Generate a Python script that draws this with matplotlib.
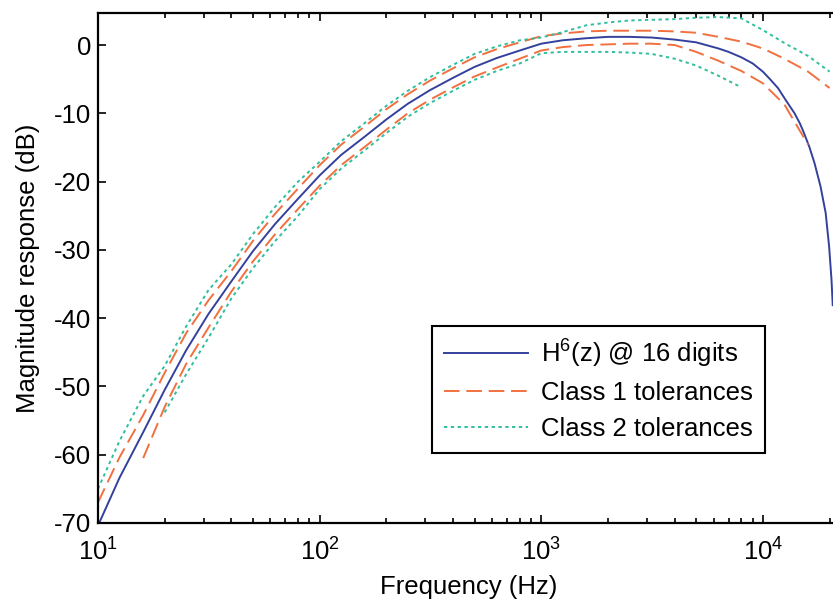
import numpy as np
import matplotlib
matplotlib.use("Agg")
from matplotlib import pyplot as plt

plt.rcParams['font.family'] = ['Liberation Sans', 'DejaVu Sans']
plt.rcParams['mathtext.default'] = 'regular'
plt.rcParams['axes.unicode_minus'] = False

# third-octave band centres used for the tolerance limits
tol_freq = [10, 12.5, 16, 20, 25, 31.5, 40, 50, 63, 80, 100, 125, 160, 200, 250,
            315, 400, 500, 630, 800, 1000, 1250, 1600, 2000, 2500, 3150, 4000,
            5000, 6300, 8000, 10000, 12500, 16000, 20000]

class1_hi = [-67.0, -60.4, -54.2, -48.0, -42.2, -37.4, -33.1, -28.7, -24.7, -21.0,
             -17.6, -14.6, -11.9, -9.4, -7.2, -5.2, -3.4, -1.8, -0.6, 0.4,
             1.3, 1.7, 2.0, 2.1, 2.1, 2.1, 2.0, 1.8, 1.2, 0.5,
             -0.5, -2.0, -3.9, -6.3]
# lower class 1 limit only defined 16 Hz .. 16 kHz
class1_lo = [-60.5, -53.0, -46.7, -41.4, -36.1, -31.7, -27.7, -24.0,
             -20.6, -17.6, -14.9, -12.4, -10.0, -8.0, -6.2, -4.6, -3.3, -2.0,
             -0.8, -0.3, 0.0, 0.1, 0.2, 0.2, 0.0, -1.0, -2.3, -3.8,
             -5.6, -8.7, -14.6]

class2_hi = [-65.0, -58.0, -51.4, -47.0, -41.2, -35.9, -32.1, -27.7, -23.7, -20.0,
             -17.1, -14.1, -11.4, -8.9, -6.7, -4.7, -2.9, -1.3, -0.2, 0.7,
             1.1, 1.9, 2.9, 3.3, 3.6, 3.7, 3.8, 4.0, 4.1, 3.9,
             2.2, 0.3, -1.6, -3.9]
# lower class 2 limit only defined 20 Hz .. 8 kHz
class2_lo = [-53.8, -48.2, -42.9, -37.1, -32.7, -28.7, -25.0,
             -21.1, -18.1, -15.4, -12.9, -10.5, -8.5, -6.7, -5.1, -3.8, -2.7,
             -1.2, -1.0, -1.0, -1.0, -1.1, -1.3, -2.0, -3.0, -4.5, -6.2]

# filter response H^6(z)
h_freq = [10, 12.5, 16, 20, 25, 31.5, 40, 50, 63, 80, 100, 125, 160, 200, 250,
          315, 400, 500, 630, 800, 1000, 1250, 1600, 2000, 2500, 3150, 4000,
          5000, 6300, 7000, 8000, 9000, 10000, 10700, 11700, 12700, 13900,
          14700, 15200, 16200, 17100, 18200, 19200, 19900, 20400, 20660]
h_db = [-70.4, -63.4, -56.7, -50.5, -44.7, -39.4, -34.6, -30.2, -26.2, -22.5,
        -19.1, -16.1, -13.4, -10.9, -8.6, -6.6, -4.8, -3.2, -1.9, -0.8,
        0.2, 0.7, 1.0, 1.2, 1.2, 1.1, 0.8, 0.4, -0.5, -1.0,
        -1.8, -2.7, -3.9, -4.9, -6.3, -8.1, -10.0,
        -11.5, -12.6, -14.9, -17.3, -20.7, -24.6, -29.5, -34.4, -38.1]

c_blue = '#33419c'
c_orange = '#f2703f'
c_teal = '#2fbf9f'
fs = 18.5

fig = plt.figure(figsize=(8.33, 6.03), dpi=100)
ax = fig.add_axes([0.1176, 0.1327, 0.8896, 0.8458])

ax.semilogx(h_freq, h_db, color=c_blue, lw=1.4, label='H$^6$(z) @ 16 digits')
ax.semilogx(tol_freq, class1_hi, color=c_orange, lw=1.4, dashes=(8, 3.5),
            label='Class 1 tolerances')
ax.semilogx(tol_freq[2:-1], class1_lo, color=c_orange, lw=1.4, dashes=(8, 3.5))
ax.semilogx(tol_freq, class2_hi, color=c_teal, lw=1.4, dashes=(1.7, 1.8),
            label='Class 2 tolerances')
ax.semilogx(tol_freq[3:30], class2_lo, color=c_teal, lw=1.4, dashes=(1.7, 1.8))

ax.set_xlim(10, 22050)
ax.set_ylim(-70, 4.7)
ax.set_yticks(np.arange(-70, 1, 10))

for s in ax.spines.values():
    s.set_linewidth(1.6)
ax.spines['right'].set_visible(False)

ax.tick_params(which='both', direction='in', top=True, right=False,
               labelsize=fs, width=1.2)
ax.tick_params(which='major', length=6)
ax.tick_params(which='minor', length=3.5)
ax.tick_params(axis='x', which='major', pad=11)
ax.tick_params(axis='y', pad=5)

ax.set_xlabel('Frequency (Hz)', fontsize=fs, labelpad=7)
ax.set_ylabel('Magnitude response (dB)', fontsize=fs, labelpad=10)

leg = ax.legend(loc='upper left', bbox_to_anchor=(0.4507, 0.386),
                fontsize=fs, fancybox=False, framealpha=1, edgecolor='black',
                handlelength=3.3, handletextpad=0.5, labelspacing=0.45,
                borderpad=0.45, borderaxespad=0)
leg.get_frame().set_linewidth(1.5)

fig.savefig('out.png', dpi=100)
